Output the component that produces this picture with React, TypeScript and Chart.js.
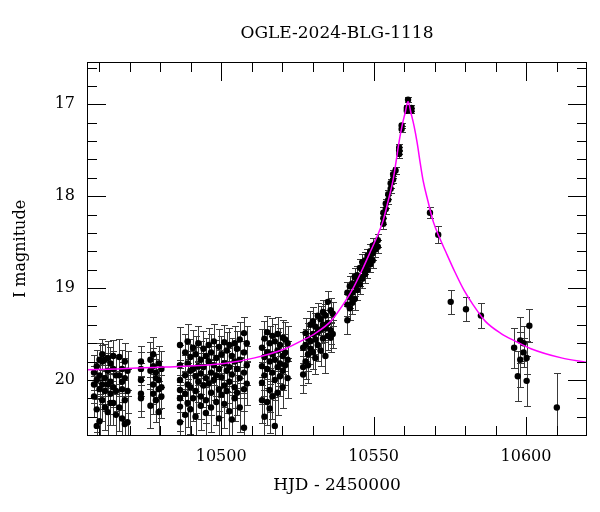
import React, { useEffect, useRef } from "react";
import { Chart, registerables } from "chart.js";

Chart.register(...registerables);

const TITLE = "OGLE-2024-BLG-1118";
const X_TITLE = "HJD - 2450000";
const Y_TITLE = "I magnitude";

const X_MIN = 10456;
const X_MAX = 10620;
const Y_MIN = 16.54;
const Y_MAX = 20.61;
const X_MAJOR = [10500, 10550, 10600];
const Y_MAJOR = [17, 18, 19, 20];
const X_MINOR_STEP = 10;
const Y_MINOR_STEP = 0.2;

// Observations grouped by night: time, magnitudes, errors
const nightHjd: number[] = [
  10458.3, 10459.2, 10460.1, 10461.0, 10461.9, 10462.8, 10463.7, 10464.6, 10465.5,
  10466.6, 10467.5, 10468.4, 10469.3,
  10473.7,
  10476.8, 10477.7, 10478.6, 10479.5, 10480.4,
  10486.5, 10488.2, 10489.0, 10489.9, 10490.8, 10491.6, 10492.5, 10493.3, 10494.2, 10495.0,
  10495.9, 10496.7, 10497.6, 10498.4, 10499.3, 10500.1, 10501.0, 10501.8, 10502.7, 10503.5,
  10504.4, 10505.2, 10506.1, 10507.5, 10508.4,
  10513.4, 10514.2, 10515.1, 10515.9, 10516.8, 10517.6, 10518.5, 10519.3, 10520.2, 10521.0, 10521.8,
  10526.9, 10527.7, 10528.5, 10529.3, 10530.1, 10530.9, 10531.7, 10532.6, 10533.4, 10534.2,
  10535.0, 10535.9, 10536.6,
  10541.4, 10542.2, 10543.0, 10543.8, 10544.6, 10545.5, 10546.3, 10547.2, 10548.0, 10548.9,
  10549.7, 10550.6, 10551.4,
  10553.2, 10554.0, 10554.8, 10555.6, 10556.4, 10557.2, 10558.4, 10559.2, 10560.9, 10561.3, 10562.4,
  10568.5, 10571.2, 10575.3, 10580.3, 10585.2, 10596.1, 10597.3, 10598.1, 10599.2, 10600.2, 10601.1,
  10610.1,
];

const nightMag: number[][] = [
  [20.05, 20.18, 19.92], [20.32, 20.0, 19.85, 20.5], [20.1, 20.45, 19.95, 19.78], [20.22, 19.8, 20.05, 19.72],
  [19.78, 19.98, 20.12, 20.3], [19.76, 19.9, 20.35, 20.05], [20.02, 19.82, 20.15, 20.25], [19.88, 20.25, 19.74, 20.08],
  [19.95, 20.12, 20.38],
  [19.95, 20.3, 19.75], [20.1, 20.42, 19.88, 20.02], [20.22, 19.8, 20.48, 19.98], [20.12, 19.9, 20.46],
  [19.8, 19.88, 20.0, 20.15, 20.2],
  [19.9, 20.28, 19.78], [20.05, 19.85, 20.15, 19.72], [19.98, 20.22, 19.92], [20.1, 19.82, 20.35, 20.0], [19.88, 20.08, 20.18],
  [19.62, 19.84, 20.0, 20.11, 20.2, 20.29, 20.46], [19.7, 19.95, 20.15, 20.38], [19.58, 19.82, 20.05, 20.25],
  [19.75, 19.9, 20.08, 20.32], [19.65, 19.88, 20.2], [19.72, 19.96, 20.12, 20.4], [19.6, 19.85, 20.02],
  [19.78, 19.93, 20.18, 20.28], [19.66, 19.86, 20.06], [19.74, 19.98, 20.22, 20.36],
  [19.62, 19.8, 20.04], [19.7, 19.92, 20.14, 20.3], [19.58, 19.84, 20.0], [19.76, 19.95, 20.24],
  [19.64, 19.88, 20.1, 20.42], [19.72, 19.97, 20.16], [19.59, 19.82, 20.06, 20.26], [19.68, 19.9, 20.12],
  [19.62, 19.86, 20.02, 20.34], [19.74, 19.94, 20.43],
  [19.6, 19.8, 20.08, 20.2], [19.66, 19.88, 20.14], [19.56, 19.78, 19.98, 20.3], [19.49, 19.7, 19.92, 20.1, 20.52],
  [19.6, 19.84, 20.04],
  [19.65, 19.85, 20.03, 20.22], [19.55, 19.75, 19.95, 20.4], [19.48, 19.7, 19.88, 20.24], [19.6, 19.8, 20.11, 20.31],
  [19.52, 19.72, 19.92, 20.18], [19.58, 19.78, 20.0, 20.5], [19.5, 19.68, 19.86, 20.14], [19.62, 19.82, 19.96],
  [19.54, 19.74, 19.9, 20.08], [19.56, 19.7, 19.84], [19.6, 19.78, 19.98],
  [19.65, 19.86, 19.94], [19.49, 19.62, 19.8], [19.55, 19.72, 19.84], [19.4, 19.58, 19.66], [19.36, 19.5, 19.7],
  [19.42, 19.56, 19.76], [19.3, 19.48, 19.62], [19.34, 19.45, 19.68], [19.26, 19.4, 19.55], [19.3, 19.44, 19.74],
  [19.15, 19.38, 19.52], [19.24, 19.46, 19.54], [19.28, 19.5],
  [19.05, 19.18, 19.35], [18.98, 19.1, 19.22], [18.95, 19.05, 19.16], [18.88, 18.98, 19.12], [18.86, 18.94, 19.02],
  [18.78, 18.88, 18.96], [18.72, 18.8, 18.9], [18.7, 18.76, 18.85], [18.65, 18.72, 18.8], [18.6, 18.68, 18.74],
  [18.54, 18.62, 18.7], [18.52, 18.58], [18.48, 18.55],
  [18.3, 18.24, 18.18], [18.14, 18.08], [18.04, 17.98], [17.92, 17.86], [17.82, 17.76], [17.72],
  [17.54, 17.5, 17.47], [17.27, 17.23], [17.07, 17.04], [16.95], [17.07, 17.04],
  [18.18], [18.42], [19.15], [19.23], [19.3], [19.65], [19.96], [19.57, 19.78], [19.6, 19.7], [19.76, 20.01], [19.41],
  [20.3],
];

const nightErr: number[][] = [
  [0.2, 0.22, 0.19], [0.25, 0.2, 0.18, 0.29], [0.22, 0.28, 0.2, 0.18], [0.23, 0.18, 0.21, 0.17],
  [0.17, 0.2, 0.22, 0.25], [0.18, 0.19, 0.26, 0.21], [0.21, 0.18, 0.22, 0.24], [0.2, 0.24, 0.18, 0.21],
  [0.2, 0.22, 0.27],
  [0.22, 0.26, 0.2], [0.23, 0.28, 0.21, 0.22], [0.25, 0.2, 0.3, 0.22], [0.24, 0.21, 0.29],
  [0.17, 0.18, 0.18, 0.19, 0.2],
  [0.2, 0.24, 0.19], [0.21, 0.2, 0.22, 0.19], [0.21, 0.24, 0.2], [0.22, 0.19, 0.27, 0.21], [0.2, 0.22, 0.23],
  [0.2, 0.22, 0.22, 0.24, 0.25, 0.27, 0.3], [0.2, 0.22, 0.24, 0.28], [0.19, 0.21, 0.23, 0.26],
  [0.2, 0.21, 0.23, 0.27], [0.19, 0.21, 0.25], [0.2, 0.22, 0.24, 0.28], [0.19, 0.21, 0.22],
  [0.2, 0.22, 0.25, 0.26], [0.19, 0.21, 0.23], [0.2, 0.22, 0.25, 0.28],
  [0.19, 0.2, 0.23], [0.2, 0.22, 0.24, 0.27], [0.19, 0.21, 0.22], [0.2, 0.22, 0.25],
  [0.19, 0.21, 0.24, 0.29], [0.2, 0.22, 0.24], [0.19, 0.21, 0.23, 0.26], [0.2, 0.22, 0.24],
  [0.19, 0.21, 0.23, 0.27], [0.2, 0.22, 0.3],
  [0.19, 0.21, 0.23, 0.25], [0.19, 0.21, 0.24], [0.19, 0.2, 0.22, 0.27], [0.18, 0.2, 0.22, 0.24, 0.32],
  [0.19, 0.21, 0.23],
  [0.2, 0.21, 0.23, 0.25], [0.19, 0.2, 0.22, 0.29], [0.18, 0.2, 0.21, 0.25], [0.19, 0.21, 0.24, 0.27],
  [0.19, 0.2, 0.22, 0.25], [0.19, 0.2, 0.22, 0.31], [0.18, 0.2, 0.21, 0.24], [0.19, 0.21, 0.22],
  [0.19, 0.2, 0.21, 0.23], [0.19, 0.2, 0.21], [0.19, 0.2, 0.22],
  [0.17, 0.19, 0.2], [0.16, 0.17, 0.19], [0.17, 0.18, 0.19], [0.15, 0.17, 0.17], [0.15, 0.16, 0.18],
  [0.15, 0.16, 0.18], [0.14, 0.15, 0.17], [0.14, 0.15, 0.17], [0.13, 0.14, 0.16], [0.13, 0.15, 0.18],
  [0.12, 0.14, 0.15], [0.13, 0.15, 0.16], [0.13, 0.15],
  [0.12, 0.12, 0.15], [0.11, 0.12, 0.13], [0.11, 0.11, 0.12], [0.1, 0.11, 0.12], [0.1, 0.1, 0.11],
  [0.1, 0.1, 0.11], [0.09, 0.09, 0.1], [0.09, 0.09, 0.1], [0.08, 0.09, 0.09], [0.08, 0.08, 0.09],
  [0.08, 0.08, 0.08], [0.07, 0.08], [0.07, 0.07],
  [0.06, 0.06, 0.06], [0.05, 0.05], [0.05, 0.05], [0.05, 0.05], [0.04, 0.04], [0.04],
  [0.04, 0.04, 0.04], [0.03, 0.03], [0.03, 0.03], [0.03], [0.03, 0.03],
  [0.06], [0.09], [0.13], [0.13], [0.14], [0.22], [0.27], [0.25, 0.3], [0.19, 0.16], [0.18, 0.27], [0.18],
  [0.38],
];

// Model curve
const modelHjd: number[] = [
  10456, 10466, 10481, 10501, 10511, 10521, 10526, 10531, 10536, 10540, 10543, 10546, 10549, 10551,
  10553, 10554.8, 10556.3, 10557.3, 10558.3, 10559.3, 10560.3, 10561.3, 10562.3, 10563.3, 10564.3,
  10565.3, 10566.3, 10567.8, 10569.6, 10571.6, 10573.6, 10576.6, 10579.6, 10582.6, 10586.6, 10591.6,
  10596.6, 10601.6, 10611.6, 10620,
];
const modelMag: number[] = [
  19.89, 19.88, 19.86, 19.82, 19.76, 19.66, 19.58, 19.49, 19.36, 19.18, 19.02, 18.82, 18.6, 18.45,
  18.28, 18.05, 17.84, 17.64, 17.42, 17.24, 17.1, 16.97, 17.1, 17.24, 17.42,
  17.64, 17.84, 18.05, 18.28, 18.45, 18.6, 18.82, 19.02, 19.18, 19.36, 19.49,
  19.58, 19.66, 19.76, 19.81,
];

const FONT = '"DejaVu Serif", "Liberation Serif", serif';

type Obs = { x: number; y: number; e: number };

function buildObs(): Obs[] {
  const out: Obs[] = [];
  nightHjd.forEach((t, i) => {
    nightMag[i].forEach((m, j) => out.push({ x: t, y: m, e: nightErr[i][j] }));
  });
  return out;
}

const errorBarPlugin = {
  id: "errorBars",
  beforeDatasetsDraw(chart: any) {
    const { ctx, chartArea: a, scales } = chart;
    const xs = scales.x;
    const ys = scales.y;
    const data: Obs[] = chart.data.datasets[1].data;
    ctx.save();
    ctx.beginPath();
    ctx.rect(a.left, a.top, a.right - a.left, a.bottom - a.top);
    ctx.clip();
    ctx.strokeStyle = "#3a3a3a";
    ctx.lineWidth = 1;
    ctx.beginPath();
    for (const p of data) {
      const px = Math.round(xs.getPixelForValue(p.x)) + 0.5;
      const y1 = Math.round(ys.getPixelForValue(p.y - p.e)) + 0.5;
      const y2 = Math.round(ys.getPixelForValue(p.y + p.e)) + 0.5;
      ctx.moveTo(px, y1);
      ctx.lineTo(px, y2);
      ctx.moveTo(px - 3.5, y1);
      ctx.lineTo(px + 3.5, y1);
      ctx.moveTo(px - 3.5, y2);
      ctx.lineTo(px + 3.5, y2);
    }
    ctx.stroke();
    ctx.restore();
  },
};

const framePlugin = {
  id: "frame",
  afterDraw(chart: any) {
    const { ctx, chartArea: a, scales } = chart;
    const xs = scales.x;
    const ys = scales.y;
    const MAJOR = 19;
    const MINOR = 10;
    ctx.save();
    ctx.strokeStyle = "#000";
    ctx.lineWidth = 1;
    ctx.strokeRect(a.left + 0.5, a.top + 0.5, a.right - a.left - 1, a.bottom - a.top - 1);
    ctx.beginPath();
    const kx0 = Math.ceil(X_MIN / X_MINOR_STEP);
    const kx1 = Math.floor(X_MAX / X_MINOR_STEP);
    for (let k = kx0; k <= kx1; k++) {
      const v = k * X_MINOR_STEP;
      const px = Math.round(xs.getPixelForValue(v)) + 0.5;
      if (px - a.left < 4 || a.right - px < 4) continue;
      const len = X_MAJOR.includes(v) ? MAJOR : MINOR;
      ctx.moveTo(px, a.bottom);
      ctx.lineTo(px, a.bottom - len);
      ctx.moveTo(px, a.top);
      ctx.lineTo(px, a.top + len);
    }
    const ky0 = Math.ceil(Y_MIN / Y_MINOR_STEP - 1e-6);
    const ky1 = Math.floor(Y_MAX / Y_MINOR_STEP + 1e-6);
    for (let k = ky0; k <= ky1; k++) {
      const v = k * Y_MINOR_STEP;
      const py = Math.round(ys.getPixelForValue(v)) + 0.5;
      if (py - a.top < 4 || a.bottom - py < 4) continue;
      const major = Y_MAJOR.some((m) => Math.abs(m - v) < 1e-6);
      const len = major ? MAJOR : MINOR;
      ctx.moveTo(a.left, py);
      ctx.lineTo(a.left + len, py);
      ctx.moveTo(a.right, py);
      ctx.lineTo(a.right - len, py);
    }
    ctx.stroke();

    ctx.fillStyle = "#000";
    ctx.textBaseline = "middle";
    ctx.textAlign = "center";
    ctx.font = `17px ${FONT}`;
    const cx = (a.left + a.right) / 2;
    ctx.fillText(TITLE, cx, 34);
    ctx.fillText(X_TITLE, cx, 486);
    ctx.font = `16px ${FONT}`;
    for (const v of X_MAJOR) {
      ctx.fillText(String(v), xs.getPixelForValue(v), 457);
    }
    ctx.textAlign = "right";
    for (const v of Y_MAJOR) {
      ctx.fillText(String(v), 75, ys.getPixelForValue(v));
    }
    ctx.save();
    ctx.translate(21, (a.top + a.bottom) / 2);
    ctx.rotate(-Math.PI / 2);
    ctx.textAlign = "center";
    ctx.font = `16px ${FONT}`;
    ctx.fillText(Y_TITLE, 0, 0);
    ctx.restore();
    ctx.restore();
  },
};

export default function App() {
  const ref = useRef<HTMLCanvasElement | null>(null);
  useEffect(() => {
    document.body.style.margin = "0";
    const canvas = ref.current;
    if (!canvas) return;
    const model = modelHjd.map((t, i) => ({ x: t, y: modelMag[i] }));
    const chart = new Chart(canvas, {
      type: "scatter",
      data: {
        datasets: [
          {
            data: model,
            showLine: true,
            borderColor: "#ff00ff",
            borderWidth: 1.5,
            pointRadius: 0,
            cubicInterpolationMode: "monotone",
            order: 0,
          } as any,
          {
            data: buildObs(),
            pointRadius: 3.2,
            pointBackgroundColor: "#000",
            pointBorderWidth: 0,
            borderColor: "#000",
            order: 1,
          } as any,
        ],
      },
      options: {
        responsive: false,
        animation: false,
        devicePixelRatio: 1,
        layout: { padding: { left: 0, right: 13, top: 62, bottom: 0 } },
        plugins: { legend: { display: false }, tooltip: { enabled: false }, title: { display: false } },
        scales: {
          x: {
            type: "linear",
            min: X_MIN,
            max: X_MAX,
            ticks: { display: false },
            grid: { display: false, drawTicks: false },
            border: { display: false },
            afterFit: (s: any) => {
              s.height = 76;
            },
          },
          y: {
            type: "linear",
            reverse: true,
            min: Y_MIN,
            max: Y_MAX,
            ticks: { display: false },
            grid: { display: false, drawTicks: false },
            border: { display: false },
            afterFit: (s: any) => {
              s.width = 87;
            },
          },
        },
      },
      plugins: [errorBarPlugin, framePlugin],
    });
    return () => chart.destroy();
  }, []);
  return (
    <div style={{ width: 600, height: 512, background: "#fff" }}>
      <canvas ref={ref} width={600} height={512} style={{ display: "block" }} />
    </div>
  );
}
